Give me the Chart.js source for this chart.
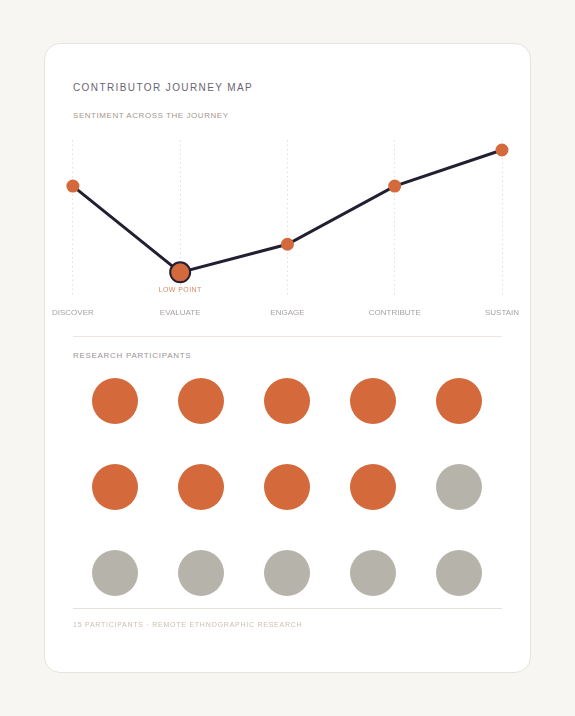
<!DOCTYPE html>
<html>
<head>
<meta charset="utf-8">
<script src="https://cdn.jsdelivr.net/npm/chart.js@4/dist/chart.umd.min.js"></script>
<style>
  html,body{margin:0;padding:0;background:#f7f6f3;width:575px;height:716px;overflow:hidden;font-family:"Liberation Sans",Arial,sans-serif;}
  .card{position:absolute;left:44px;top:43px;width:485px;height:628px;background:#fff;border:1px solid #e6e4dc;border-radius:16px;}
  .txt{position:absolute;white-space:nowrap;line-height:1;}
  #title{left:73px;top:83px;font-size:10px;letter-spacing:1.4px;color:#6a6470;}
  #sub{left:73px;top:112px;font-size:8px;letter-spacing:0.55px;color:#a8968c;}
  #part{left:73px;top:352px;font-size:8px;letter-spacing:0.7px;color:#9c9494;}
  #foot{left:73px;top:621px;font-size:7px;letter-spacing:0.75px;color:#cbbfae;}
  .hr{position:absolute;left:73px;width:429px;height:1px;}
  #hr1{top:336px;background:#ede5de;}
  #hr2{top:608px;background:#e6e2da;}
  #lineWrap{position:absolute;left:40px;top:130px;width:495px;height:200px;}
  #dotWrap{position:absolute;left:44px;top:350px;width:487px;height:270px;}
</style>
</head>
<body>
<div class="card"></div>
<div class="txt" id="title">CONTRIBUTOR JOURNEY MAP</div>
<div class="txt" id="sub">SENTIMENT ACROSS THE JOURNEY</div>
<div id="lineWrap"><canvas id="line"></canvas></div>
<div class="hr" id="hr1"></div>
<div class="txt" id="part">RESEARCH PARTICIPANTS</div>
<div id="dotWrap"><canvas id="dots"></canvas></div>
<div class="hr" id="hr2"></div>
<div class="txt" id="foot">15 PARTICIPANTS · REMOTE ETHNOGRAPHIC RESEARCH</div>
<script>
// ---- data ----
const stages = ['DISCOVER','EVALUATE','ENGAGE','CONTRIBUTE','SUSTAIN'];
const sentiment = [68, 25, 39, 68, 86];
const lowPointLabel = 'LOW POINT';
const participantStatus = ['engaged','engaged','engaged','engaged','engaged',
                           'engaged','engaged','engaged','engaged','other',
                           'other','other','other','other','other'];
const gridColumns = 5;

// ---- styles ----
const ORANGE = '#d4693b';
const GREY = '#b6b3ab';
const INK = '#221f33';

const lowIdx = sentiment.indexOf(Math.min(...sentiment));

const lowLabelPlugin = {
  id: 'lowLabel',
  afterDatasetsDraw(chart){
    const pt = chart.getDatasetMeta(0).data[lowIdx];
    const ctx = chart.ctx;
    ctx.save();
    ctx.letterSpacing = '0.4px';
    ctx.font = '7px "Liberation Sans", Arial, sans-serif';
    ctx.fillStyle = '#d38a68';
    ctx.textAlign = 'center';
    ctx.textBaseline = 'middle';
    ctx.fillText(lowPointLabel, pt.x, pt.y + 18);
    ctx.restore();
  }
};

new Chart(document.getElementById('line'), {
  type: 'line',
  data: {
    labels: stages,
    datasets: [{
      data: sentiment,
      borderColor: INK,
      borderWidth: 3,
      tension: 0,
      pointBackgroundColor: ORANGE,
      pointBorderColor: sentiment.map((v,i)=> i===lowIdx ? INK : ORANGE),
      pointBorderWidth: sentiment.map((v,i)=> i===lowIdx ? 2 : 0),
      pointRadius: sentiment.map((v,i)=> i===lowIdx ? 10 : 6.5),
      pointHoverRadius: sentiment.map((v,i)=> i===lowIdx ? 10 : 6.5),
      clip: false
    }]
  },
  options: {
    responsive: true,
    maintainAspectRatio: false,
    animation: false,
    events: [],
    layout: { autoPadding: false, padding: { left: 32, right: 33, top: 10, bottom: 0 } },
    plugins: { legend: { display: false }, tooltip: { enabled: false } },
    scales: {
      x: {
        offset: false,
        border: { display: false, dash: [1.5,3] },
        grid: { color: '#e4e0d8', lineWidth: 1, drawTicks: false },
        ticks: { color: '#a9a1a1', padding: 12, font: { size: 8, family: '"Liberation Sans", Arial, sans-serif' }, maxRotation: 0, autoSkip: false }
      },
      y: { display: false, min: 13, max: 91 }
    }
  },
  plugins: [lowLabelPlugin]
});

// ---- participant grid ----
const dotData = participantStatus.map((s,i)=>({ x: (i % gridColumns) + 1, y: Math.floor(i / gridColumns) + 1 }));
new Chart(document.getElementById('dots'), {
  type: 'scatter',
  data: {
    datasets: [{
      data: dotData,
      pointRadius: 23,
      pointHoverRadius: 23,
      pointBorderWidth: 0,
      pointBackgroundColor: participantStatus.map(s => s === 'engaged' ? ORANGE : GREY),
      clip: false
    }]
  },
  options: {
    responsive: true,
    maintainAspectRatio: false,
    animation: false,
    events: [],
    layout: { autoPadding: false, padding: { left: 28, right: 29, top: 8, bottom: 4 } },
    plugins: { legend: { display: false }, tooltip: { enabled: false } },
    scales: {
      x: { display: false, min: 0.5, max: 5.5 },
      y: { display: false, min: 0.5, max: 3.5, reverse: true }
    }
  }
});
</script>
</body>
</html>
